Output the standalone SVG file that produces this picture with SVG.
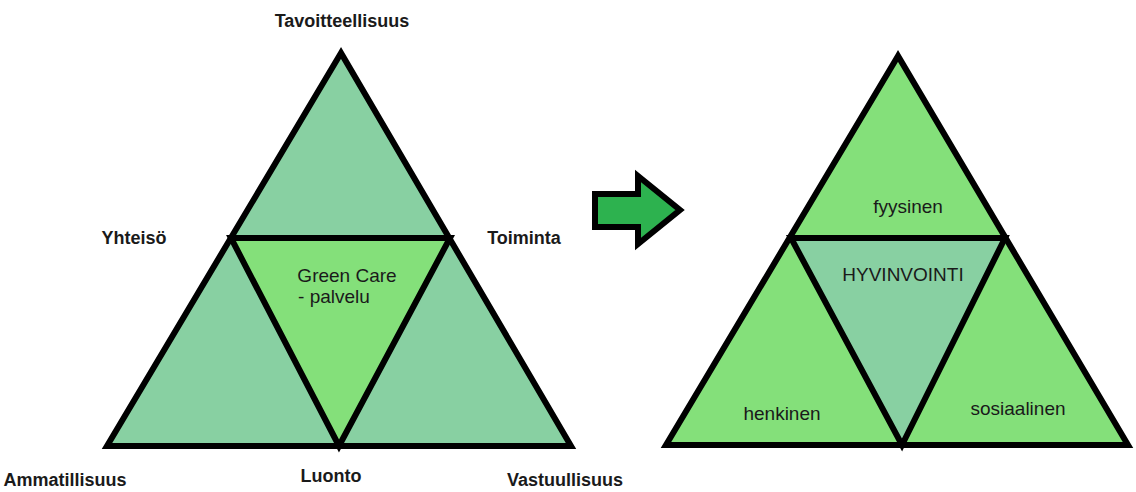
<svg xmlns="http://www.w3.org/2000/svg" width="1136" height="492" viewBox="0 0 1136 492">
<style>
.tri{stroke:#000;stroke-width:6;stroke-linejoin:miter}
.a{fill:#88d0a2}
.b{fill:#84e07a}
.lbl{font-family:"Liberation Sans",Arial,sans-serif;font-size:18px;font-weight:bold;fill:#1a1a1a;text-anchor:middle}
.in{font-family:"Liberation Sans",Arial,sans-serif;font-size:19px;fill:#1a1a1a;text-anchor:middle}
</style>
<rect width="1136" height="492" fill="#fff"/>
<g id="left-triangle">
<polygon class="tri a" points="341,53 107,446 571,446"/>
<polygon class="tri b" points="231,238 450,238 339,446"/>
</g>
<g id="arrow">
<polygon points="595,194 638,194 638,176 680,210 638,244 638,227 595,227" fill="#2db24f" stroke="#000" stroke-width="6" stroke-linejoin="miter"/>
</g>
<g id="right-triangle">
<polygon class="tri b" points="898,56 666,445 1128,445"/>
<polygon class="tri a" points="791,238 1005,238 902,445"/>
</g>
<g id="labels">
<text class="lbl" x="342" y="27">Tavoitteellisuus</text>
<text class="lbl" x="134" y="244">Yhteisö</text>
<text class="lbl" x="524" y="244">Toiminta</text>
<text class="lbl" x="65" y="486">Ammatillisuus</text>
<text class="lbl" x="331" y="482">Luonto</text>
<text class="lbl" x="565" y="486">Vastuullisuus</text>
<text class="in" x="347" y="282">Green Care</text>
<text class="in" x="334" y="303">- palvelu</text>
<text class="in" x="908" y="213">fyysinen</text>
<text class="in" x="903" y="281">HYVINVOINTI</text>
<text class="in" x="782" y="420">henkinen</text>
<text class="in" x="1018" y="415">sosiaalinen</text>
</g>
</svg>
